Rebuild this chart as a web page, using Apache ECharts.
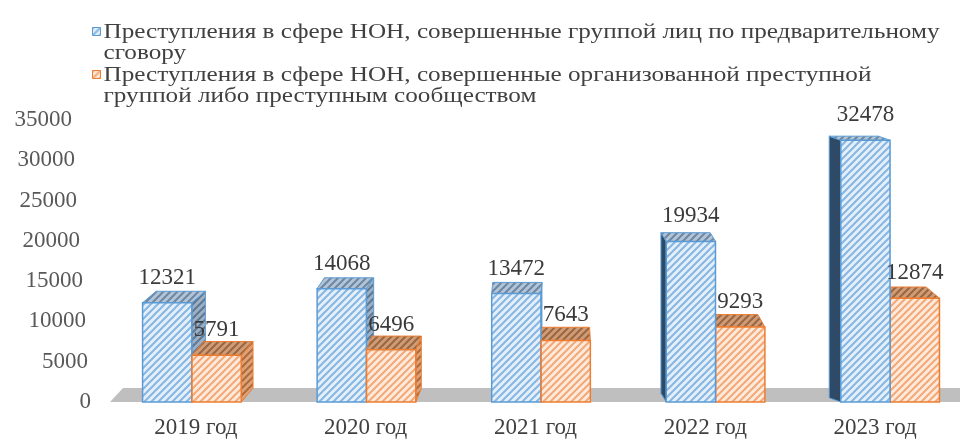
<!DOCTYPE html>
<html>
<head>
<meta charset="utf-8">
<script src="https://cdn.jsdelivr.net/npm/echarts@6/dist/echarts.min.js"></script>
<style>
  html, body { margin: 0; padding: 0; background: #fff; }
  #chart { width: 960px; height: 439px; }
</style>
</head>
<body>
<div id="chart"></div>
<script>
  // данные
  const years = ['2019 год', '2020 год', '2021 год', '2022 год', '2023 год']
  const groupCrimes = [12321, 14068, 13472, 19934, 32478]
  const orgCrimes = [5791, 6496, 7643, 9293, 12874]
  const seriesNames = [
    'Преступления в сфере НОН, совершенные группой лиц по предварительному\nсговору',
    'Преступления в сфере НОН, совершенные организованной преступной\nгруппой либо преступным сообществом'
  ]
  const yTicks = [0, 5000, 10000, 15000, 20000, 25000, 30000, 35000]

  const FONT = '"Liberation Serif", "Times New Roman", serif'

  // штриховка
  function hatch(bg, line, lw) {
    const s = 7
    const c = document.createElement('canvas')
    c.width = s; c.height = s
    const ctx = c.getContext('2d')
    ctx.fillStyle = bg
    ctx.fillRect(0, 0, s, s)
    ctx.strokeStyle = line
    ctx.lineWidth = lw
    ctx.beginPath()
    ctx.moveTo(-s, s); ctx.lineTo(s, -s)
    ctx.moveTo(0, s); ctx.lineTo(s, 0)
    ctx.moveTo(0, 2 * s); ctx.lineTo(2 * s, 0)
    ctx.stroke()
    return { image: c, repeat: 'repeat' }
  }

  const styles = [
    {
      front: hatch('#e4eff9', '#86b6e2', 2),
      top: hatch('#b4c4d4', '#6a88a6', 2),
      sideR: hatch('#9fb0c2', '#5d7895', 2),
      sideL: '#2f4a66',
      border: '#5b9bd5'
    },
    {
      front: hatch('#fdeadc', '#f3a977', 2),
      top: hatch('#cf9c78', '#9a6640', 2),
      sideR: hatch('#dda27a', '#b06a38', 2),
      sideL: '#a85a26',
      border: '#ed7d31'
    }
  ]

  function makeBar(k) {
    return function (params, api) {
      const idx = api.value(0)
      const val = api.value(1)
      const cs = params.coordSys
      const catW = api.size([1, 0])[0]
      const base = api.coord([idx, 0])
      const y0 = base[1]
      const top = api.coord([idx, val])[1]
      const w = catW * 0.29
      // лёгкий перспективный сдвиг вправо
      const shift = (base[0] - cs.x - catW / 2) * 0.028
      const x = base[0] + shift + (k === 0 ? -0.314 : -0.023) * catW
      const fc = x + w / 2
      const dx = (cs.x + cs.width * 0.51 - fc) * 0.036
      const dy = Math.min(14, 4 + (top - (cs.y + 17)) * 0.045)
      const st = styles[k]
      const z2 = dx < 0 ? (k === 0 ? 10 : 5) : (k === 0 ? 5 : 10)
      const side = dx >= 0
        ? [[x + w, top], [x + w + dx, top - dy], [x + w + dx, y0 - dy], [x + w, y0]]
        : [[x, top], [x + dx, top - dy], [x + dx, y0 - dy], [x, y0]]
      return {
        type: 'group',
        children: [
          {
            type: 'polygon', z2: z2,
            shape: { points: side },
            style: { fill: dx >= 0 ? st.sideR : st.sideL, stroke: st.border, lineWidth: 1 }
          },
          {
            type: 'polygon', z2: z2,
            shape: { points: [[x, top], [x + w, top], [x + w + dx, top - dy], [x + dx, top - dy]] },
            style: { fill: st.top, stroke: st.border, lineWidth: 1 }
          },
          {
            type: 'rect', z2: z2 + 1,
            shape: { x: x, y: top, width: w, height: y0 - top },
            style: { fill: st.front, stroke: st.border, lineWidth: 1.5 }
          },
          {
            type: 'text', z2: 20,
            x: fc, y: top - 25,
            style: {
              text: String(val), fill: '#3a3a3a',
              font: '23px ' + FONT, align: 'center', verticalAlign: 'middle'
            }
          }
        ]
      }
    }
  }

  function renderFloor(params, api) {
    const cs = params.coordSys
    const y0 = api.coord([0, 0])[1]
    return {
      type: 'polygon',
      shape: { points: [[cs.x - 1, y0], [980, y0], [980, y0 - 14], [cs.x + 12, y0 - 14]] },
      style: { fill: '#bfbfbf' }
    }
  }

  // подписи оси Y немного скошены
  const rich = {}
  yTicks.forEach((t, i) => {
    rich['t' + i] = {
      fontSize: 23, fontFamily: FONT, color: '#595959',
      padding: [0, Math.round(t / 35000 * 19), 0, 0]
    }
  })

  // легенда
  function measure(txt, font) {
    const ctx = document.createElement('canvas').getContext('2d')
    ctx.font = font
    return ctx.measureText(txt).width
  }
  const legFont = '22px ' + FONT
  const legScale = 836 / measure(seriesNames[0].split('\n')[0], legFont)

  const chartInstance = echarts.init(document.getElementById('chart'))
  const option = {
    animation: false,
    grid: { left: 111, right: -11, top: 120, bottom: 37 },
    xAxis: {
      type: 'category',
      data: years,
      axisLine: { show: false },
      axisTick: { show: false },
      axisLabel: { margin: 14, fontSize: 23, fontFamily: FONT, color: '#404040' }
    },
    yAxis: {
      type: 'value',
      min: 0, max: 35000, interval: 5000,
      splitLine: { show: false },
      axisLine: { show: false },
      axisTick: { show: false },
      axisLabel: {
        margin: 20,
        formatter: (v) => '{t' + yTicks.indexOf(v) + '|' + v + '}',
        rich: rich
      }
    },
    graphic: [0, 1].map((k) => ({
      type: 'group',
      left: 92,
      top: k === 0 ? 21 : 64,
      children: [
        {
          type: 'rect',
          shape: { x: 0, y: 6, width: 8, height: 8 },
          style: { fill: styles[k].front, stroke: styles[k].border, lineWidth: 1 }
        },
        {
          type: 'text',
          x: 11, y: 0,
          scaleX: legScale,
          style: {
            text: seriesNames[k], font: legFont, fill: '#404040',
            lineHeight: 21
          }
        }
      ]
    })),
    series: [
      { type: 'custom', name: 'floor', z: 1, renderItem: renderFloor, data: [[0]] },
      {
        type: 'custom', name: seriesNames[0], z: 2,
        renderItem: makeBar(0),
        data: groupCrimes.map((v, i) => [i, v])
      },
      {
        type: 'custom', name: seriesNames[1], z: 2,
        renderItem: makeBar(1),
        data: orgCrimes.map((v, i) => [i, v])
      }
    ]
  }
  chartInstance.setOption(option)
</script>
</body>
</html>
